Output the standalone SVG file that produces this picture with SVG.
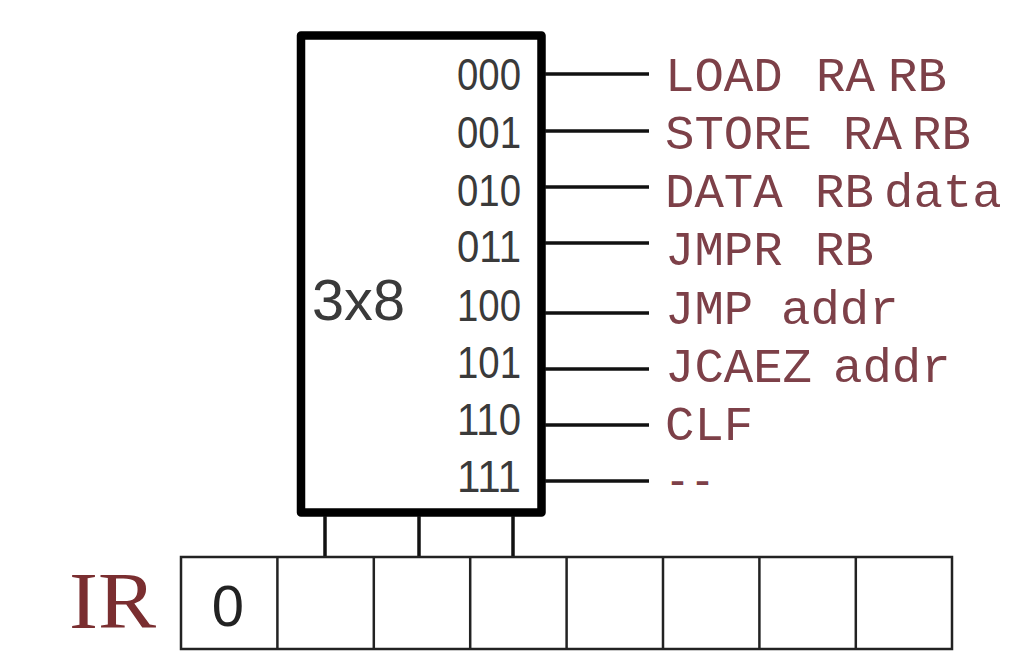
<svg xmlns="http://www.w3.org/2000/svg" width="1016" height="672" viewBox="0 0 1016 672">
<style>
.code{font-family:"Liberation Sans",Arial,sans-serif;font-size:45px;fill:#3a3a3a}
.lbl{font-family:"Liberation Mono","Courier New",monospace;font-size:49px;fill:#7d4048}
.wire{stroke:#111;stroke-width:3.5;fill:none}
.cell{stroke:#222;stroke-width:2.5;fill:#fff}
</style>
<rect width="1016" height="672" fill="#fff"/>
<g id="decoder">
<rect x="301" y="35.5" width="240.5" height="477" fill="#fff" stroke="#000" stroke-width="8.5" stroke-linejoin="round"/>
<text x="312" y="320" font-family="Liberation Sans,Arial,sans-serif" font-size="58" fill="#3a3a3a" textLength="93" lengthAdjust="spacingAndGlyphs">3x8</text>
<text class="code" x="457" y="90" textLength="64" lengthAdjust="spacingAndGlyphs">000</text>
<text class="code" x="457" y="148" textLength="64" lengthAdjust="spacingAndGlyphs">001</text>
<text class="code" x="457" y="206" textLength="64" lengthAdjust="spacingAndGlyphs">010</text>
<text class="code" x="457" y="262" textLength="64" lengthAdjust="spacingAndGlyphs">011</text>
<text class="code" x="457" y="321" textLength="64" lengthAdjust="spacingAndGlyphs">100</text>
<text class="code" x="457" y="378" textLength="64" lengthAdjust="spacingAndGlyphs">101</text>
<text class="code" x="457" y="435" textLength="64" lengthAdjust="spacingAndGlyphs">110</text>
<text class="code" x="457" y="492" textLength="64" lengthAdjust="spacingAndGlyphs">111</text>
</g>
<g id="connectors">
<line class="wire" x1="545" y1="74" x2="649" y2="74"/>
<line class="wire" x1="545" y1="131" x2="649" y2="131"/>
<line class="wire" x1="545" y1="187" x2="649" y2="187"/>
<line class="wire" x1="545" y1="243" x2="649" y2="243"/>
<line class="wire" x1="545" y1="313" x2="649" y2="313"/>
<line class="wire" x1="545" y1="369" x2="649" y2="369"/>
<line class="wire" x1="545" y1="425" x2="649" y2="425"/>
<line class="wire" x1="545" y1="481" x2="649" y2="481"/>
<line class="wire" x1="325" y1="516" x2="325" y2="557"/>
<line class="wire" x1="419" y1="516" x2="419" y2="557"/>
<line class="wire" x1="513" y1="516" x2="513" y2="557"/>
</g>
<g id="labels">
<text class="lbl" y="91"><tspan x="665">LOAD</tspan><tspan x="816">RA</tspan><tspan x="888">RB</tspan></text>
<text class="lbl" y="149"><tspan x="665">STORE</tspan><tspan x="843">RA</tspan><tspan x="912">RB</tspan></text>
<text class="lbl" y="207"><tspan x="665">DATA</tspan><tspan x="815">RB</tspan><tspan x="884">data</tspan></text>
<text class="lbl" y="265"><tspan x="665">JMPR</tspan><tspan x="815">RB</tspan></text>
<text class="lbl" y="324"><tspan x="665">JMP</tspan><tspan x="781">addr</tspan></text>
<text class="lbl" y="382"><tspan x="665">JCAEZ</tspan><tspan x="833">addr</tspan></text>
<text class="lbl" x="665" y="440">CLF</text>
<text class="lbl" x="665" y="496" textLength="50" lengthAdjust="spacingAndGlyphs">--</text>
</g>
<g id="register">
<text x="69" y="628" font-family="Liberation Serif,Times New Roman,serif" font-size="80" fill="#7a2e30" textLength="87" lengthAdjust="spacingAndGlyphs">IR</text>
<rect class="cell" x="181" y="557" width="771" height="92"/>
<line class="cell" x1="277.4" y1="557" x2="277.4" y2="649"/>
<line class="cell" x1="373.8" y1="557" x2="373.8" y2="649"/>
<line class="cell" x1="470.2" y1="557" x2="470.2" y2="649"/>
<line class="cell" x1="566.6" y1="557" x2="566.6" y2="649"/>
<line class="cell" x1="663" y1="557" x2="663" y2="649"/>
<line class="cell" x1="759.4" y1="557" x2="759.4" y2="649"/>
<line class="cell" x1="855.8" y1="557" x2="855.8" y2="649"/>
<text x="228" y="626" font-family="Liberation Sans,Arial,sans-serif" font-size="58" fill="#222" text-anchor="middle">0</text>
</g>
</svg>
